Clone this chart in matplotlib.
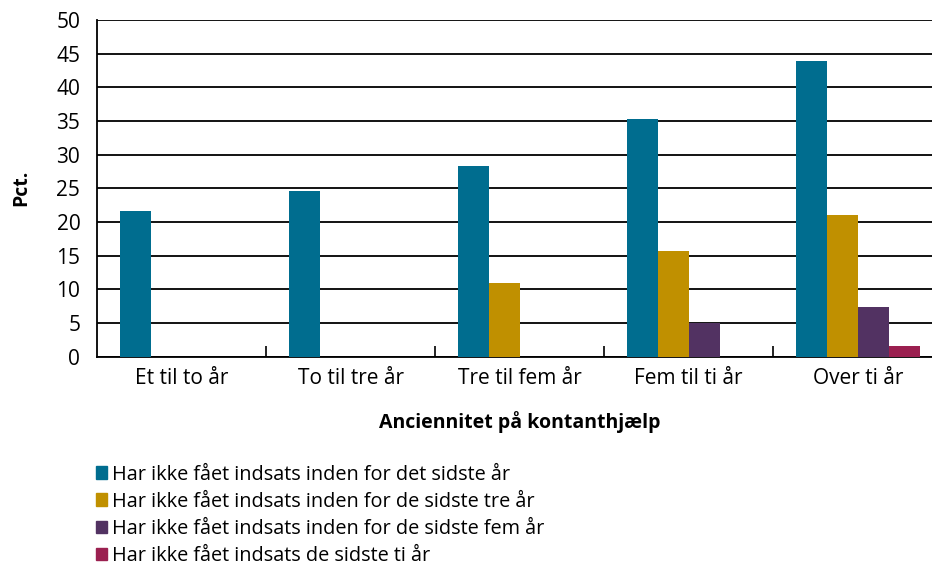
import numpy as np
import matplotlib
matplotlib.use("Agg")
from matplotlib import pyplot as plt
import matplotlib.patches as mpatches

plt.rcParams['font.family'] = ['Open Sans', 'DejaVu Sans']

categories = ["Et til to år", "To til tre år", "Tre til fem år", "Fem til ti år", "Over ti år"]
series_labels = ["Har ikke fået indsats inden for det sidste år",
                 "Har ikke fået indsats inden for de sidste tre år",
                 "Har ikke fået indsats inden for de sidste fem år",
                 "Har ikke fået indsats de sidste ti år"]
sidste_aar = [21.7, 24.6, 28.3, 35.3, 43.9]
sidste_tre = [0, 0, 11.0, 15.7, 21.1]
sidste_fem = [0, 0, 0, 5.0, 7.4]
sidste_ti = [0, 0, 0, 0, 1.6]
colors_hex = ["#006d8f", "#c09000", "#523262", "#9b2050"]

values = [sidste_aar, sidste_tre, sidste_fem, sidste_ti]

fig = plt.figure(figsize=(9.32, 5.68), dpi=100)
ax = fig.add_axes([0.104, 0.372, 0.907, 0.593])

x = np.arange(len(categories))
w = 0.183
for i, vals in enumerate(values):
    ax.bar(x - 1.5 * w + i * w, vals, w, color=colors_hex[i], zorder=3)

ax.set_xlim(-0.5, len(categories) - 0.5)
ax.set_ylim(0, 50)
ax.set_yticks(np.arange(0, 51, 5))
ax.yaxis.grid(True, color="black", linewidth=1.3, zorder=0)
for s in ["top", "right"]:
    ax.spines[s].set_visible(False)
ax.spines["left"].set_linewidth(1.3)
ax.spines["bottom"].set_linewidth(1.3)

# category labels at centers, small ticks at group boundaries
ax.set_xticks(x)
ax.set_xticklabels(categories, fontsize=15)
ax.tick_params(axis="x", length=0, pad=8)
ax.set_xticks(np.arange(0.5, len(categories) - 1, 1), minor=True)
ax.tick_params(axis="x", which="minor", direction="in", length=8, width=1.2)
ax.tick_params(axis="y", length=0, labelsize=15, pad=12)

ax.set_ylabel("Pct.", fontsize=14, fontweight="bold", labelpad=18)
ax.set_xlabel("Anciennitet på kontanthjælp", fontsize=14, fontweight="bold", labelpad=16)

patches = [mpatches.Patch(color=colors_hex[i], label=series_labels[i]) for i in range(4)]
fig.legend(handles=patches, loc="upper left", bbox_to_anchor=(0.094, 0.196),
           frameon=False, fontsize=14.3, handlelength=0.6, handleheight=0.6,
           handletextpad=0.25, labelspacing=0.36, borderaxespad=0)

fig.savefig("out.png", dpi=100)
